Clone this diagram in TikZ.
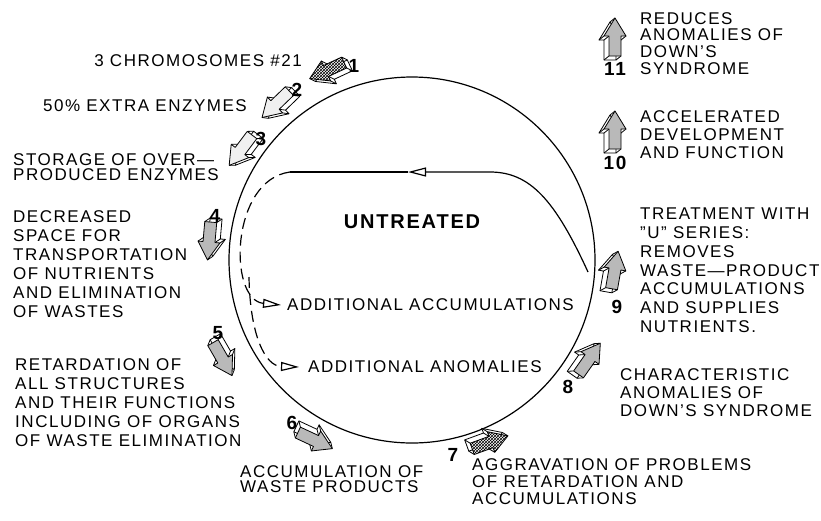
\documentclass[tikz,border=0pt]{standalone}
\usepackage{fontspec}
\setmainfont{Liberation Sans}[LetterSpace=9]
\usetikzlibrary{arrows.meta,patterns}

\tikzset{
  pics/blockarrow/.style={code={
    \draw[line width=0.8pt,line join=round,fill=white,shift={(-4,-5)}] (-20,-6) -- (0,-6) -- (0,-11) -- (18,0) -- (0,11) -- (0,6) -- (-20,6) -- cycle;
    \foreach \px/\py in {-20/-6,0/-6,0/-11,18/0,0/11,0/6,-20/6}
      \draw[line width=0.8pt] (\px,\py) -- ++(-4,-5);
    \draw[line width=0.8pt,line join=round,#1] (-20,-6) -- (0,-6) -- (0,-11) -- (18,0) -- (0,11) -- (0,6) -- (-20,6) -- cycle;
  }},
  hatchface/.style={preaction={fill=white},pattern=crosshatch},
  dotface/.style={fill=gray!55},
  paleface/.style={fill=gray!12},
  lbl/.style={inner sep=0pt,align=left,font=\fontsize{17}{#1}\selectfont},
  lbl/.default=19,
  num/.style={inner sep=0pt,font=\bfseries\fontsize{19}{19}\selectfont},
  flow/.style={line width=1.2pt},
  brokenline/.style={dash pattern=on 11pt off 6pt},
  opentip/.style={-{Triangle[open,length=18pt,width=9pt]}},
}

\begin{document}
\begin{tikzpicture}[x=1pt,y=-1pt]
  \useasboundingbox (0,0) rectangle (821,520);
  \node[circle,draw,line width=1.2pt,inner sep=0pt,minimum size=366pt] (cycle) at (412,260) {};
  % block arrows round the circle
  \foreach \cx/\cy/\ang/\face in {326/71/205/hatchface, 275/105/224/paleface, 240/151/233/paleface,
      209/242/265/dotface, 223/360/300/dotface, 316/441/335/dotface, 491/442/20/hatchface,
      590/358/55/dotface, 615/269/80/dotface, 615/129/90/dotface, 615/36/90/dotface}
    \pic[rotate=\ang] at (\cx,\cy) {blockarrow=\face};
  \foreach \n/\nx/\ny in {1/354/66, 2/297/90, 3/261/139, 4/215/216, 5/218/333, 6/292/423,
      7/453/455, 8/568/387, 9/617/307, 10/615/163, 11/615/69}
    \node[num] (n\n) at (\nx,\ny) {\n};
  % stage texts
  \node[lbl,anchor=north east] (chrom) at (302,54) {3 CHROMOSOMES \#21};
  \node[lbl,anchor=north east] (extra) at (247,99) {50\% EXTRA ENZYMES};
  \node[lbl=15.5,anchor=north west] (storage) at (13,153) {STORAGE OF OVER—\\PRODUCED ENZYMES};
  \node[lbl,anchor=north west] (space) at (13,210) {DECREASED\\SPACE FOR\\TRANSPORTATION\\OF NUTRIENTS\\AND ELIMINATION\\OF WASTES};
  \node[lbl,anchor=north west] (retard) at (15,358) {RETARDATION OF\\ALL STRUCTURES\\AND THEIR FUNCTIONS\\INCLUDING OF ORGANS\\OF WASTE ELIMINATION};
  \node[lbl=15.5,anchor=north west] (waste) at (240,465) {ACCUMULATION OF\\WASTE PRODUCTS};
  \node[lbl=17,anchor=north west] (aggrav) at (472,458) {AGGRAVATION OF PROBLEMS\\OF RETARDATION AND\\ACCUMULATIONS};
  \node[lbl=18,anchor=north west] (charac) at (620,368) {CHARACTERISTIC\\ANOMALIES OF\\DOWN'S SYNDROME};
  \node[lbl=18.7,anchor=north west] (treat) at (640,208) {TREATMENT WITH\\"U" SERIES:\\REMOVES\\WASTE—PRODUCT\\ACCUMULATIONS\\AND SUPPLIES\\NUTRIENTS.};
  \node[lbl=18,anchor=north west] (accel) at (640,110) {ACCELERATED\\DEVELOPMENT\\AND FUNCTION};
  \node[lbl=16.7,anchor=north west] (reduce) at (640,12) {REDUCES\\ANOMALIES OF\\DOWN'S\\SYNDROME};
  % inside the circle
  \node[font=\bfseries\fontsize{20}{20}\selectfont,inner sep=0pt] (untreated) at (412,222) {UNTREATED};
  \node[lbl,anchor=west,inner xsep=6pt] (addacc) at (281,305) {ADDITIONAL ACCUMULATIONS};
  \node[lbl,anchor=west,inner xsep=9pt] (addanom) at (299,367) {ADDITIONAL ANOMALIES};
  \coordinate (ret) at (588,272);
  \coordinate (mid) at (408,172);
  \coordinate (turn) at (290,172);
  \coordinate (split) at (249,277);
  \draw[flow,opentip] (ret) .. controls (555,200) and (530,172) .. (490,172) -- (mid);
  \draw[flow] (mid) -- (turn);
  \draw[flow,brokenline,opentip] (turn) .. controls (230,180) and (228,300) .. (addacc.west);
  \draw[flow,brokenline,opentip] (split) .. controls (250,335) and (265,366) .. (addanom.west);
\end{tikzpicture}
\end{document}
